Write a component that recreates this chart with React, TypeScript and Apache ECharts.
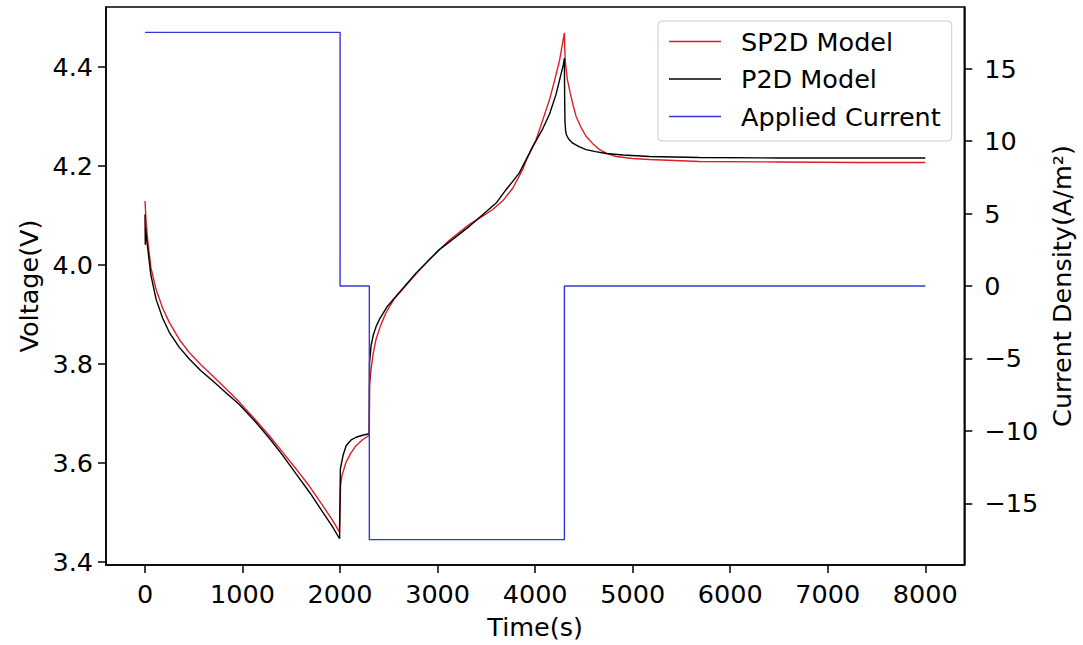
import React, { useEffect, useRef } from "react";
import * as echarts from "echarts";

const sp2dTime = [0, 10, 27, 60, 113, 180, 249, 350, 454, 570, 693, 830, 967, 1120, 1275, 1410, 1549, 1690, 1822, 1920, 1993, 2000, 2005, 2020, 2062, 2110, 2164, 2230, 2299, 2302, 2318, 2340, 2369, 2420, 2472, 2550, 2642, 2780, 2916, 3120, 3326, 3450, 3565, 3670, 3770, 3873, 3908, 4010, 4078, 4148, 4215, 4251, 4300, 4303, 4310, 4330, 4360, 4390, 4420, 4470, 4522, 4590, 4660, 4740, 4830, 5000, 5172, 5685, 6500, 7300, 8000];
const sp2dVoltage = [4.129, 4.09, 4.052, 3.995, 3.951, 3.913, 3.884, 3.85, 3.823, 3.799, 3.776, 3.75, 3.723, 3.69, 3.655, 3.622, 3.588, 3.552, 3.514, 3.485, 3.461, 3.461, 3.555, 3.575, 3.602, 3.62, 3.635, 3.647, 3.656, 3.756, 3.79, 3.822, 3.85, 3.88, 3.904, 3.93, 3.951, 3.982, 4.011, 4.05, 4.082, 4.097, 4.112, 4.13, 4.155, 4.193, 4.211, 4.253, 4.293, 4.334, 4.385, 4.414, 4.469, 4.44, 4.41, 4.375, 4.347, 4.322, 4.3, 4.278, 4.26, 4.245, 4.233, 4.225, 4.219, 4.215, 4.213, 4.209, 4.208, 4.207, 4.207];

const p2dTime = [0, 3, 6, 12, 27, 60, 113, 180, 249, 350, 454, 570, 693, 830, 967, 1120, 1275, 1410, 1549, 1690, 1822, 1920, 1995, 2000, 2003, 2030, 2062, 2110, 2164, 2230, 2299, 2302, 2318, 2340, 2370, 2403, 2480, 2574, 2780, 3018, 3326, 3600, 3702, 3838, 3975, 4078, 4148, 4215, 4290, 4300, 4301, 4303, 4306, 4312, 4320, 4345, 4386, 4450, 4522, 4620, 4727, 4900, 5172, 5685, 6500, 7300, 8000];
const p2dVoltage = [4.102, 4.041, 4.075, 4.06, 4.035, 3.98, 3.931, 3.893, 3.864, 3.834, 3.81, 3.787, 3.766, 3.742, 3.718, 3.686, 3.65, 3.616, 3.578, 3.54, 3.501, 3.472, 3.447, 3.447, 3.588, 3.615, 3.635, 3.646, 3.652, 3.656, 3.659, 3.803, 3.837, 3.858, 3.876, 3.89, 3.915, 3.937, 3.984, 4.031, 4.078, 4.125, 4.152, 4.186, 4.239, 4.275, 4.305, 4.345, 4.405, 4.418, 4.38, 4.33, 4.29, 4.272, 4.263, 4.254, 4.246, 4.239, 4.233, 4.229, 4.225, 4.222, 4.219, 4.217, 4.216, 4.216, 4.216];

const currentTime = [0, 2000, 2000, 2300, 2300, 4300, 4300, 8000];
const currentValue = [17.5, 17.5, 0, 0, -17.5, -17.5, 0, 0];

const timeTicks = [0, 1000, 2000, 3000, 4000, 5000, 6000, 7000, 8000];
const voltageTicks = [3.4, 3.6, 3.8, 4.0, 4.2, 4.4];
const currentTicks = [-15, -10, -5, 0, 5, 10, 15];

const zip = (a: number[], b: number[]) => a.map((v, i) => [v, b[i]]);

export default function App() {
  const ref = useRef<HTMLDivElement>(null);
  useEffect(() => {
    if (!ref.current) return;
    const chart = echarts.init(ref.current, null, { renderer: "svg" });
    const font = "DejaVu Sans";
    const fs = 25.5;
    const axisLine = { show: true, onZero: false, lineStyle: { color: "#000", width: 1.5 } };
    const axisTick = (vals: number[]) => ({
      show: true,
      length: 8,
      lineStyle: { color: "#000", width: 1.5 },
      customValues: vals,
    });
    chart.setOption({
      animation: false,
      backgroundColor: "#fff",
      textStyle: { fontFamily: font },
      grid: {
        left: 106,
        right: 118,
        top: 7,
        bottom: 79,
        show: true,
        borderColor: "#000",
        borderWidth: 1.5,
        backgroundColor: "transparent",
      },
      legend: {
        left: 658,
        top: 21,
        orient: "vertical",
        padding: [6, 11, 10, 11],
        itemGap: 8.5,
        itemWidth: 52,
        itemHeight: 1.6,
        icon: "rect",
        backgroundColor: "rgba(255,255,255,0.8)",
        borderColor: "#cccccc",
        borderWidth: 1,
        borderRadius: 4,
        textStyle: {
          fontFamily: font,
          fontSize: fs,
          color: "#000",
          lineHeight: 29,
          padding: [0, 0, 0, 15],
        },
        data: ["SP2D Model", "P2D Model", "Applied Current"],
      },
      xAxis: {
        type: "value",
        min: -400,
        max: 8400,
        name: "Time(s)",
        nameLocation: "middle",
        nameGap: 49,
        nameTextStyle: { fontFamily: font, fontSize: fs, color: "#000" },
        axisLine,
        axisTick: axisTick(timeTicks),
        splitLine: { show: false },
        axisLabel: {
          customValues: timeTicks,
          fontFamily: font,
          fontSize: fs,
          color: "#000",
          margin: 16,
          formatter: (v: number) => String(v),
        },
      },
      yAxis: [
        {
          type: "value",
          min: 3.394,
          max: 4.521,
          position: "left",
          name: "Voltage(V)",
          nameLocation: "middle",
          nameGap: 64,
          nameTextStyle: { fontFamily: font, fontSize: fs, color: "#000" },
          axisLine,
          axisTick: axisTick(voltageTicks),
          splitLine: { show: false },
          axisLabel: {
            customValues: voltageTicks,
            fontFamily: font,
            fontSize: fs,
            color: "#000",
            margin: 13,
            formatter: (v: number) => v.toFixed(1),
          },
        },
        {
          type: "value",
          min: -19.25,
          max: 19.25,
          position: "right",
          name: "Current Density(A/m²)",
          nameLocation: "middle",
          nameGap: 84,
          nameTextStyle: { fontFamily: font, fontSize: fs, color: "#000" },
          axisLine,
          axisTick: axisTick(currentTicks),
          splitLine: { show: false },
          axisLabel: {
            customValues: currentTicks,
            fontFamily: font,
            fontSize: fs,
            color: "#000",
            margin: 20,
            formatter: (v: number) => (v < 0 ? "\u2212" + Math.abs(v) : String(v)),
          },
        },
      ],
      series: [
        {
          name: "SP2D Model",
          type: "line",
          yAxisIndex: 0,
          data: zip(sp2dTime, sp2dVoltage),
          symbol: "none",
          smooth: false,
          color: "#dc1e26",
          lineStyle: { width: 1.4, color: "#dc1e26" },
        },
        {
          name: "P2D Model",
          type: "line",
          yAxisIndex: 0,
          data: zip(p2dTime, p2dVoltage),
          symbol: "none",
          smooth: false,
          color: "#000",
          lineStyle: { width: 1.4, color: "#000" },
        },
        {
          name: "Applied Current",
          type: "line",
          yAxisIndex: 1,
          data: zip(currentTime, currentValue),
          symbol: "none",
          smooth: false,
          color: "#3434d8",
          lineStyle: { width: 1.4, color: "#3434d8" },
        },
      ],
    });
    return () => chart.dispose();
  }, []);
  return (
    <div
      ref={ref}
      style={{ position: "fixed", left: 0, top: 0, width: 1083, height: 645, background: "#fff" }}
    />
  );
}
